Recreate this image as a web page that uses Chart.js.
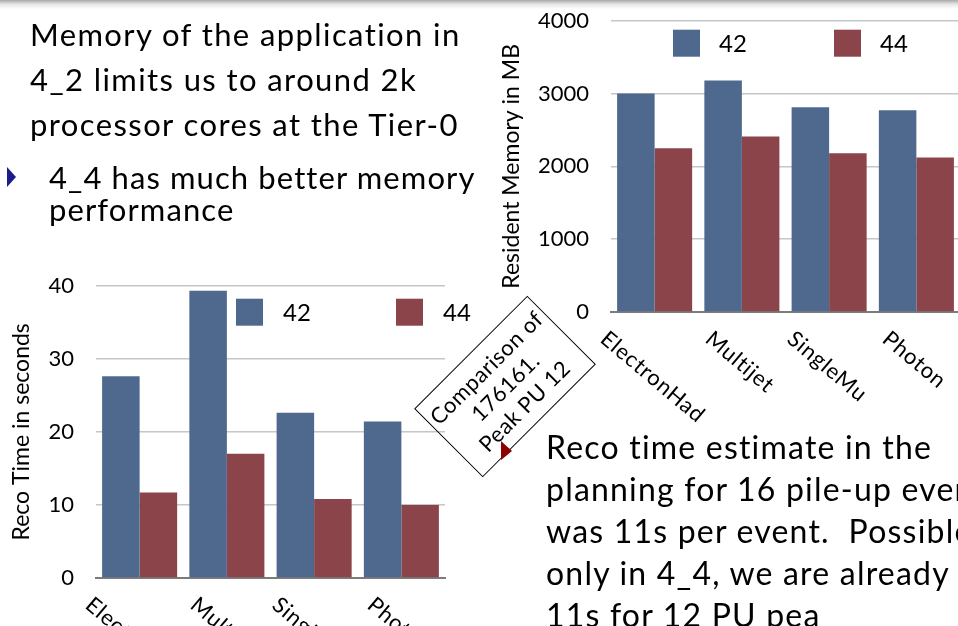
<!DOCTYPE html>
<html><head><meta charset="utf-8">
<script src="https://cdn.jsdelivr.net/npm/chart.js@4.4.0/dist/chart.umd.min.js"></script>
<style>
html,body{margin:0;padding:0;background:#fff;}
body{width:958px;height:626px;overflow:hidden;position:relative;font-family:Lato,'Open Sans',sans-serif;font-variant-ligatures:none;}
#shade{position:absolute;left:0;top:0;width:958px;height:9px;background:linear-gradient(#a9a9a9,#e4e4e4 45%,#fff);}
.t{position:absolute;white-space:pre;color:#000;line-height:1.2;}
canvas{position:absolute;}
#box{position:absolute;left:425px;top:337.5px;width:160px;height:97px;border:1px solid #000;box-sizing:border-box;transform:rotate(-45deg);display:flex;flex-direction:column;align-items:center;justify-content:center;font-size:22px;letter-spacing:0.6px;line-height:27px;color:#000;text-align:center;}
svg{position:absolute;left:0;top:0;}
</style></head>
<body>
<div id="shade"></div>
<canvas id="mem" width="480" height="440" style="left:490px;top:0px;width:480px;height:440px"></canvas>
<canvas id="time" width="490" height="366" style="left:0px;top:260px;width:490px;height:366px"></canvas>
<div id="box"><div>Comparison of</div><div>176161.</div><div>Peak PU 12</div></div>
<svg width="958" height="626"><polygon points="7,167 16,177 7,187" fill="#1b1b8e"/><polygon points="501,441 512,451 501,460" fill="#8b0000"/></svg>
<div id="texts"></div>
<script>
// ---- data ----
const categories = ['ElectronHad', 'Multijet', 'SingleMu', 'Photon'];
const seriesNames = ['42', '44'];
const memory42 = [3000, 3180, 2810, 2770];
const memory44 = [2250, 2410, 2180, 2120];
const time42 = [27.6, 39.3, 22.6, 21.4];
const time44 = [11.7, 17.0, 10.8, 10.0];
const memoryTicks = [0, 1000, 2000, 3000, 4000];
const timeTicks = [0, 10, 20, 30, 40];
const memoryTitle = 'Resident Memory in MB';
const timeTitle = 'Reco Time in seconds';

const para1 = ['Memory of the application in', '4_2 limits us to around 2k', 'processor cores at the Tier-0'];
const bullet1 = ['4_4 has much better memory', 'performance'];
const para2 = ['Reco time estimate in the', 'planning for 16 pile-up events', 'was 11s per event.  Possible', 'only in 4_4, we are already at', '11s for 12 PU pea'];

// ---- slide text ----
const texts = document.getElementById('texts');
function lines(arr, x, base0, step, size, ls){
  arr.forEach((s, i) => {
    const d = document.createElement('div');
    d.className = 't';
    d.textContent = s;
    d.style.fontSize = size + 'px';
    d.style.letterSpacing = ls + 'px';
    d.style.left = x + 'px';
    d.style.top = (base0 + i * step - 0.987 * size) + 'px';
    texts.appendChild(d);
  });
}
lines(para1, 30, 47, 45, 31, 1.4);
lines(bullet1, 49, 190, 32, 31, 1.1);
lines(para2, 546, 460, 42, 32, 1.2);

// ---- charts ----
const BLUE = 'rgb(79,105,142)', RED = 'rgb(139,68,73)';
Chart.defaults.font.family = 'Lato';
const slidePlugin = {
  id: 'slide',
  afterDatasetsDraw(chart, args, o) {
    const ctx = chart.ctx, ca = chart.chartArea, xs = chart.scales.x;
    ctx.save();
    ctx.letterSpacing = '0.8px';
    ctx.font = o.labelSize + 'px Lato';
    ctx.fillStyle = '#000';
    ctx.textAlign = 'center';
    ctx.textBaseline = 'middle';
    const th = o.labelAngle * Math.PI / 180;
    chart.data.labels.forEach((lab, i) => {
      const L = ctx.measureText(lab).width;
      const h = o.labelSize * 0.8;
      const cx = xs.getPixelForTick(i) + o.labelDx;
      const cy = ca.bottom + o.labelDy + (L * Math.sin(th) + h * Math.cos(th)) / 2;
      ctx.save(); ctx.translate(cx, cy); ctx.rotate(th); ctx.fillText(lab, 0, 0); ctx.restore();
    });
    ctx.letterSpacing = '0px';
    chart.data.datasets.forEach((ds, i) => {
      const x = ca.left + o.legendX[i], y = ca.top + o.legendY;
      ctx.fillStyle = ds.backgroundColor;
      ctx.fillRect(x, y, o.box, o.box);
      ctx.fillStyle = '#000';
      ctx.font = o.legendSize + 'px Lato';
      ctx.textAlign = 'left';
      ctx.textBaseline = 'middle';
      ctx.fillText(ds.label, x + o.box + o.gap, y + o.box / 2 + 1);
    });
    ctx.restore();
  }
};

function makeChart(id, v42, v44, ticks, title, yWidth, xHeight, pad, legend) {
  return new Chart(document.getElementById(id), {
    type: 'bar',
    data: {
      labels: categories,
      datasets: [
        { label: seriesNames[0], data: v42, backgroundColor: BLUE, categoryPercentage: 0.86, barPercentage: 1.0 },
        { label: seriesNames[1], data: v44, backgroundColor: RED, categoryPercentage: 0.86, barPercentage: 1.0 }
      ]
    },
    options: {
      responsive: false,
      animation: false,
      devicePixelRatio: 1,
      layout: { padding: pad },
      plugins: { legend: { display: false }, tooltip: { enabled: false }, slide: legend },
      scales: {
        x: {
          ticks: { display: false },
          grid: { display: false },
          border: { display: true, color: '#7c7c7c', width: 2 },
          afterFit(s) { s.height = xHeight; }
        },
        y: {
          min: ticks[0], max: ticks[ticks.length - 1],
          afterBuildTicks(s) { s.ticks = ticks.map(v => ({ value: v })); },
          ticks: { color: '#000', font: { family: 'Lato', size: 22 }, padding: 0, callback: v => String(v) },
          grid: { color: '#c6c6c6', lineWidth: 1.5, drawTicks: true, tickLength: 22, tickColor: 'rgba(0,0,0,0)' },
          border: { display: false },
          title: { display: true, text: title, color: '#000', font: { family: 'Lato', size: 23 }, padding: { top: 8, bottom: 0 } },
          afterFit(s) { s.width = yWidth; }
        }
      }
    },
    plugins: [slidePlugin]
  });
}
function fitArea(chart, target) {
  const p = Object.assign({}, chart.config.options.layout.padding);
  for (let k = 0; k < 3; k++) {
    const ca = chart.chartArea;
    p.top += target.top - ca.top;
    p.right += ca.right - target.right;
    chart.config.options.layout.padding = Object.assign({}, p);
    chart.update('none');
  }
}

const memChart = makeChart('mem', memory42, memory44, memoryTicks, memoryTitle, 121, 128, { top: 21, right: 9, left: 0, bottom: 0 },
  { labelSize: 22, labelAngle: 40, labelDx: -2, labelDy: 17, legendX: [62, 223], legendY: 9, box: 27, gap: 19, legendSize: 24 });
const timeChart = makeChart('time', time42, time44, timeTicks, timeTitle, 96, 48, { top: 26, right: 45, left: 0, bottom: 0 },
  { labelSize: 22, labelAngle: 40, labelDx: -2, labelDy: 17, legendX: [140, 300], legendY: 13, box: 27, gap: 20, legendSize: 24 });
fitArea(memChart, { top: 20.7, right: 470 });
fitArea(timeChart, { top: 25.7, right: 445 });
</script>
</body></html>
